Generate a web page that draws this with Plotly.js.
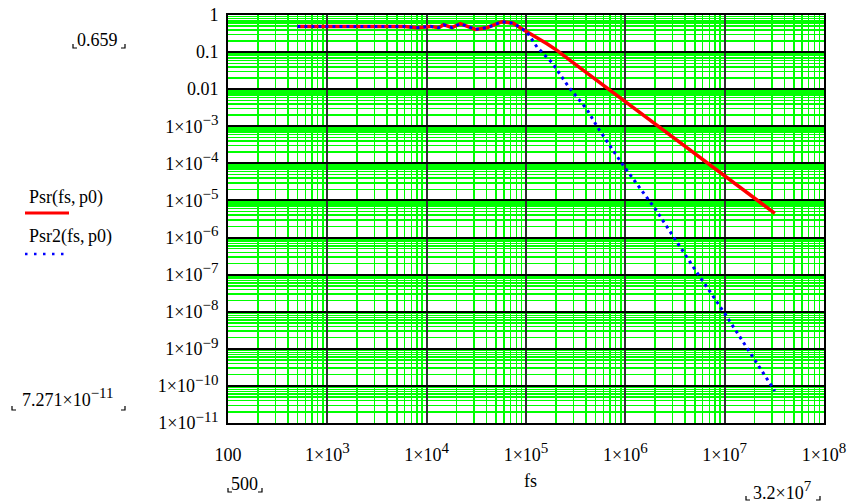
<!DOCTYPE html>
<html>
<head>
<meta charset="utf-8">
<script src="https://cdn.plot.ly/plotly-3.0.1.min.js"></script>
<style>html,body{margin:0;padding:0;background:#fff;}#chart{width:858px;height:504px;}</style>
</head>
<body>
<div id="chart"></div>
<script>
// Psr(fs, p0) — red solid
const fsPsr = [500, 1000, 2000, 4000, 6000, 8000, 10900, 13200, 14800, 18000, 21800, 30900, 40400, 57300, 74500, 87600, 102000, 130000, 162600, 205000, 300000, 500000, 1e6, 2e6, 5e6, 1e7, 2e7, 3.2e7];
const psr   = [0.493, 0.493, 0.493, 0.493, 0.49, 0.455, 0.493, 0.455, 0.548, 0.455, 0.583, 0.409, 0.455, 0.659, 0.60, 0.455, 0.348, 0.24, 0.168, 0.111, 0.0511, 0.0184, 4.6e-3, 1.15e-3, 1.84e-4, 4.6e-5, 1.15e-5, 4.5e-6];
// Psr2(fs, p0) — blue dotted
const fsPsr2 = [500, 1000, 2000, 4000, 6000, 8000, 10900, 13200, 14800, 18000, 21800, 30900, 40400, 57300, 74500, 87600, 102000, 129000, 162600, 182800, 268500, 411000, 530000, 926000, 2e6, 5e6, 1e7, 2e7, 3.2e7];
const psr2   = [0.493, 0.493, 0.493, 0.493, 0.49, 0.455, 0.493, 0.455, 0.548, 0.455, 0.583, 0.409, 0.455, 0.659, 0.60, 0.455, 0.348, 0.137, 0.074, 0.0518, 0.0115, 2.85e-3, 9.0e-4, 9.8e-5, 5.9e-6, 1.4e-7, 9e-9, 5e-10, 7.271e-11];

const xTickVals = [1e2, 1e3, 1e4, 1e5, 1e6, 1e7, 1e8];
const xExp = ['', '3', '4', '5', '6', '7', '8'];
const yTickVals = [1, 0.1, 0.01, 1e-3, 1e-4, 1e-5, 1e-6, 1e-7, 1e-8, 1e-9, 1e-10, 1e-11];
const yExp = ['', '', '', '−3', '−4', '−5', '−6', '−7', '−8', '−9', '−10', '−11'];
const yPlain = ['1', '0.1', '0.01'];

const legendNames = ['Psr(fs,\u2009p0)', 'Psr2(fs,\u2009p0)'];
const yMaxLabel = '0.659';
const yMinMant = '7.271', yMinExp = '−11';
const xMinLabel = '500';
const xMaxMant = '3.2', xMaxExp = '7';
const xAxisName = 'fs';

const sup = e => '<sup><span style="font-size:15px">' + e + '</span></sup>';
const xTickText = xExp.map(e => e === '' ? '100' : '1×10' + sup(e));
const yTickText = yExp.map((e, i) => e === '' ? yPlain[i] : '1×10' + sup(e));

function minorVals(lo, hi) {
  const v = [];
  for (let e = lo; e < hi; e++) for (let d = 2; d <= 9; d++) v.push(d * Math.pow(10, e));
  return v;
}

// pixel -> paper helpers for decorations outside the plot
const L = 228, W = 596, B = 423, H = 408;
const px = x => (x - L) / W;
const py = y => (B - y) / H;
function bracket(x, y, side) {
  const s = side === 'l' ? 1 : -1;
  return {type: 'path', xref: 'paper', yref: 'paper',
    path: `M ${px(x)} ${py(y - 4)} L ${px(x)} ${py(y)} L ${px(x + s * 4)} ${py(y)}`,
    line: {color: '#000', width: 1.2}};
}

const font = 'Liberation Serif, Times New Roman, serif';
const tf = {family: font, size: 18, color: '#000'};

const traces = [
  {x: fsPsr, y: psr, type: 'scatter', mode: 'lines', name: legendNames[0],
   line: {color: '#ff0000', width: 3.5}},
  {x: fsPsr2, y: psr2, type: 'scatter', mode: 'lines', name: legendNames[1],
   line: {color: '#0000ff', width: 3, dash: '3px,4px'}}
];

const layout = {
  width: 858, height: 504,
  margin: {l: 228, r: 34, t: 15, b: 81},
  paper_bgcolor: '#fff', plot_bgcolor: '#fff',
  showlegend: false,
  font: tf,
  xaxis: {
    type: 'log', range: [2, 8], tickmode: 'array', tickvals: xTickVals, ticktext: xTickText,
    showgrid: true, gridcolor: '#303030', gridwidth: 2,
    minor: {tickmode: 'array', tickvals: minorVals(2, 8), showgrid: true, gridcolor: '#00ff00', gridwidth: 1.5, ticks: ''},
    ticks: '', ticklabelstandoff: 14,
    showline: true, mirror: true, linecolor: '#000', linewidth: 2, zeroline: false,
    tickfont: tf
  },
  yaxis: {
    type: 'log', range: [-11, 0], tickmode: 'array', tickvals: yTickVals, ticktext: yTickText,
    showgrid: true, gridcolor: '#000', gridwidth: 2,
    minor: {tickmode: 'array', tickvals: minorVals(-11, 0), showgrid: true, gridcolor: '#00ff00', gridwidth: 1.5, ticks: ''},
    ticks: '', ticklabelstandoff: 4,
    showline: true, mirror: true, linecolor: '#000', linewidth: 2, zeroline: false,
    tickfont: tf
  },
  annotations: [
    {xref: 'paper', yref: 'paper', x: px(27), y: py(197), xanchor: 'left', yanchor: 'middle', text: legendNames[0], showarrow: false, font: tf},
    {xref: 'paper', yref: 'paper', x: px(27), y: py(236), xanchor: 'left', yanchor: 'middle', text: legendNames[1], showarrow: false, font: tf},
    {xref: 'paper', yref: 'paper', x: px(97.5), y: py(40), xanchor: 'center', yanchor: 'middle', text: yMaxLabel, showarrow: false, font: tf},
    {xref: 'paper', yref: 'paper', x: px(67.5), y: py(397), xanchor: 'center', yanchor: 'middle', text: yMinMant + '×10' + sup(yMinExp), showarrow: false, font: tf},
    {xref: 'paper', yref: 'paper', x: px(244), y: py(484), xanchor: 'center', yanchor: 'middle', text: xMinLabel, showarrow: false, font: tf},
    {xref: 'paper', yref: 'paper', x: px(530), y: py(481), xanchor: 'center', yanchor: 'middle', text: xAxisName, showarrow: false, font: tf},
    {xref: 'paper', yref: 'paper', x: px(782), y: py(490), xanchor: 'center', yanchor: 'middle', text: xMaxMant + '×10' + sup(xMaxExp), showarrow: false, font: tf}
  ],
  shapes: [
    {type: 'line', xref: 'paper', yref: 'paper', x0: px(25), x1: px(69), y0: py(213), y1: py(213), line: {color: '#ff0000', width: 3}},
    {type: 'line', xref: 'paper', yref: 'paper', x0: px(25), x1: px(70), y0: py(254), y1: py(254), line: {color: '#0000ff', width: 2.5, dash: '2.5px,6.5px'}},
    bracket(73, 48, 'l'), bracket(125, 48, 'r'),
    bracket(12, 410, 'l'), bracket(125, 410, 'r'),
    bracket(228, 492, 'l'), bracket(262, 492, 'r'),
    bracket(746, 500, 'l'), bracket(820, 500, 'r')
  ]
};

Plotly.newPlot('chart', traces, layout, {displayModeBar: false, staticPlot: true});
</script>
</body>
</html>
